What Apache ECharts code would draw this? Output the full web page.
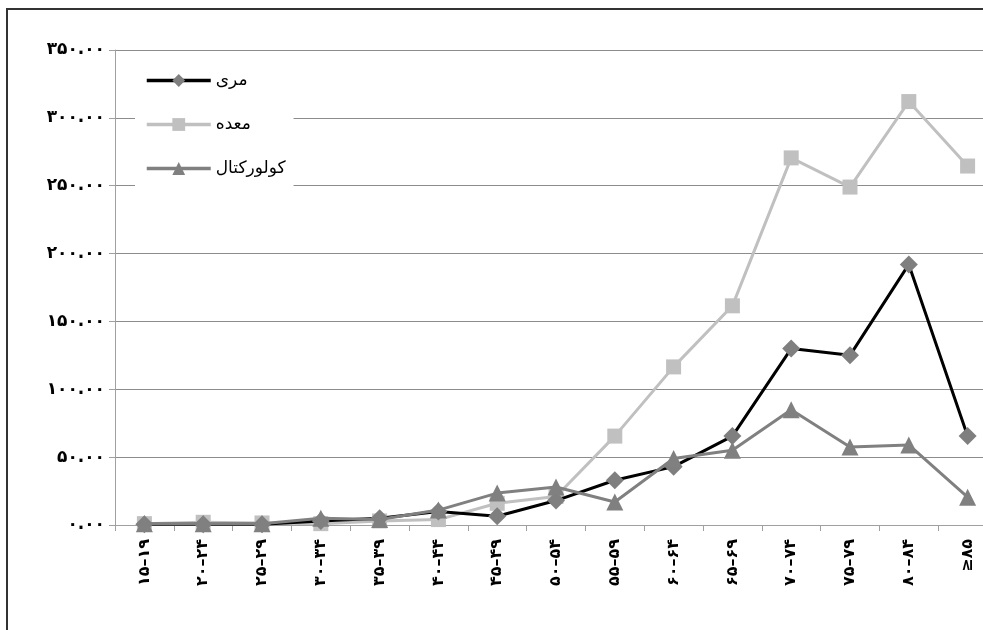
<!DOCTYPE html>
<html>
<head>
<meta charset="utf-8">
<script src="https://cdn.jsdelivr.net/npm/echarts@6/dist/echarts.min.js"></script>
<style>
html, body { margin: 0; padding: 0; background: #fff; overflow: hidden; }
#chart { width: 1000px; height: 630px; }
</style>
</head>
<body>
<div id="chart"></div>
<script>
// گروه های سنی
var categories = ['۱۵–۱۹', '۲۰–۲۴', '۲۵–۲۹', '۳۰–۳۴', '۳۵–۳۹', '۴۰–۴۴', '۴۵–۴۹',
	'۵۰–۵۴', '۵۵–۵۹', '۶۰–۶۴', '۶۵–۶۹', '۷۰–۷۴', '۷۵–۷۹', '۸۰–۸۴', '≥۸۵'];

var seriesNames = ['مری', 'معده', 'کولورکتال'];

var esophagus = [0.5, 0.5, 0.5, 3, 5, 10, 6.5, 18, 33, 43, 65.5, 130, 125, 192, 65.5];
var stomach = [1, 2, 1.5, 1, 3, 4, 16, 21, 65.5, 116.5, 161.5, 270.5, 249, 312, 264.5];
var colorectal = [1, 1, 1, 5, 4, 11, 23.5, 28, 17, 49, 55, 85, 57.5, 59, 20.5];

var yTicks = [0, 50, 100, 150, 200, 250, 300, 350];

var FONT = 'DejaVu Sans';

function toFa(s) {
	return String(s).replace(/[0-9]/g, function (d) {
		return '۰۱۲۳۴۵۶۷۸۹'.charAt(+d);
	});
}

function showChart(divId) {
	var chart = echarts.init(document.getElementById(divId));
	var option = genOption();
	if (option && typeof option === "object") {
		chart.setOption(option, true);
	}
}

function genOption() {
	var option = {
		animation : false,
		backgroundColor : '#fff',
		graphic : [ {
			type : 'rect',
			shape : { x : 7, y : 9, width : 1000, height : 650 },
			style : { fill : 'none', stroke : '#333', lineWidth : 2 },
			silent : true,
			z : 100
		} ],
		grid : {
			left : 115,
			top : 50,
			height : 475,
			width : 882,
			containLabel : false
		},
		legend : {
			orient : 'vertical',
			left : 135,
			top : 62,
			padding : [ 10, 8, 10, 10 ],
			backgroundColor : '#fff',
			itemWidth : 64,
			itemHeight : 16,
			itemGap : 27,
			textStyle : {
				fontFamily : FONT,
				fontSize : 17,
				color : '#000'
			},
			data : [
				{ name : seriesNames[0], lineStyle : { width : 3.5 } },
				{ name : seriesNames[1], lineStyle : { width : 3.5 } },
				{ name : seriesNames[2], lineStyle : { width : 3.5 } }
			]
		},
		xAxis : {
			type : 'category',
			data : categories,
			boundaryGap : true,
			axisLine : { lineStyle : { color : '#a0a0a0', width : 1 } },
			axisTick : { show : true, interval : 0, length : 6, lineStyle : { color : '#a0a0a0' } },
			axisLabel : {
				interval : 0,
				rotate : 90,
				margin : 14,
				fontFamily : FONT,
				fontWeight : 'bold',
				fontSize : 16,
				color : '#000'
			},
			splitLine : { show : false }
		},
		yAxis : {
			type : 'value',
			min : yTicks[0],
			max : yTicks[yTicks.length - 1],
			interval : 50,
			axisLine : { show : true, lineStyle : { color : '#a0a0a0', width : 1 } },
			axisTick : { show : true, length : 6, lineStyle : { color : '#a0a0a0' } },
			axisLabel : {
				margin : 10,
				fontFamily : FONT,
				fontWeight : 'bold',
				fontSize : 17,
				color : '#000',
				formatter : function (v) {
					return toFa(v.toFixed(2));
				}
			},
			splitLine : { show : true, lineStyle : { color : '#8c8c8c', width : 1 } }
		},
		series : [ {
			name : seriesNames[0],
			type : 'line',
			data : esophagus,
			symbol : 'diamond',
			symbolSize : 18,
			lineStyle : { color : '#000', width : 3 },
			itemStyle : { color : '#7f7f7f' },
			z : 3
		}, {
			name : seriesNames[1],
			type : 'line',
			data : stomach,
			symbol : 'rect',
			symbolSize : 15,
			lineStyle : { color : '#c0c0c0', width : 3 },
			itemStyle : { color : '#c0c0c0' },
			z : 2
		}, {
			name : seriesNames[2],
			type : 'line',
			data : colorectal,
			symbol : 'triangle',
			symbolSize : 17,
			lineStyle : { color : '#808080', width : 3 },
			itemStyle : { color : '#808080' },
			z : 4
		} ]
	};

	return option;
}

showChart('chart');
</script>
</body>
</html>
